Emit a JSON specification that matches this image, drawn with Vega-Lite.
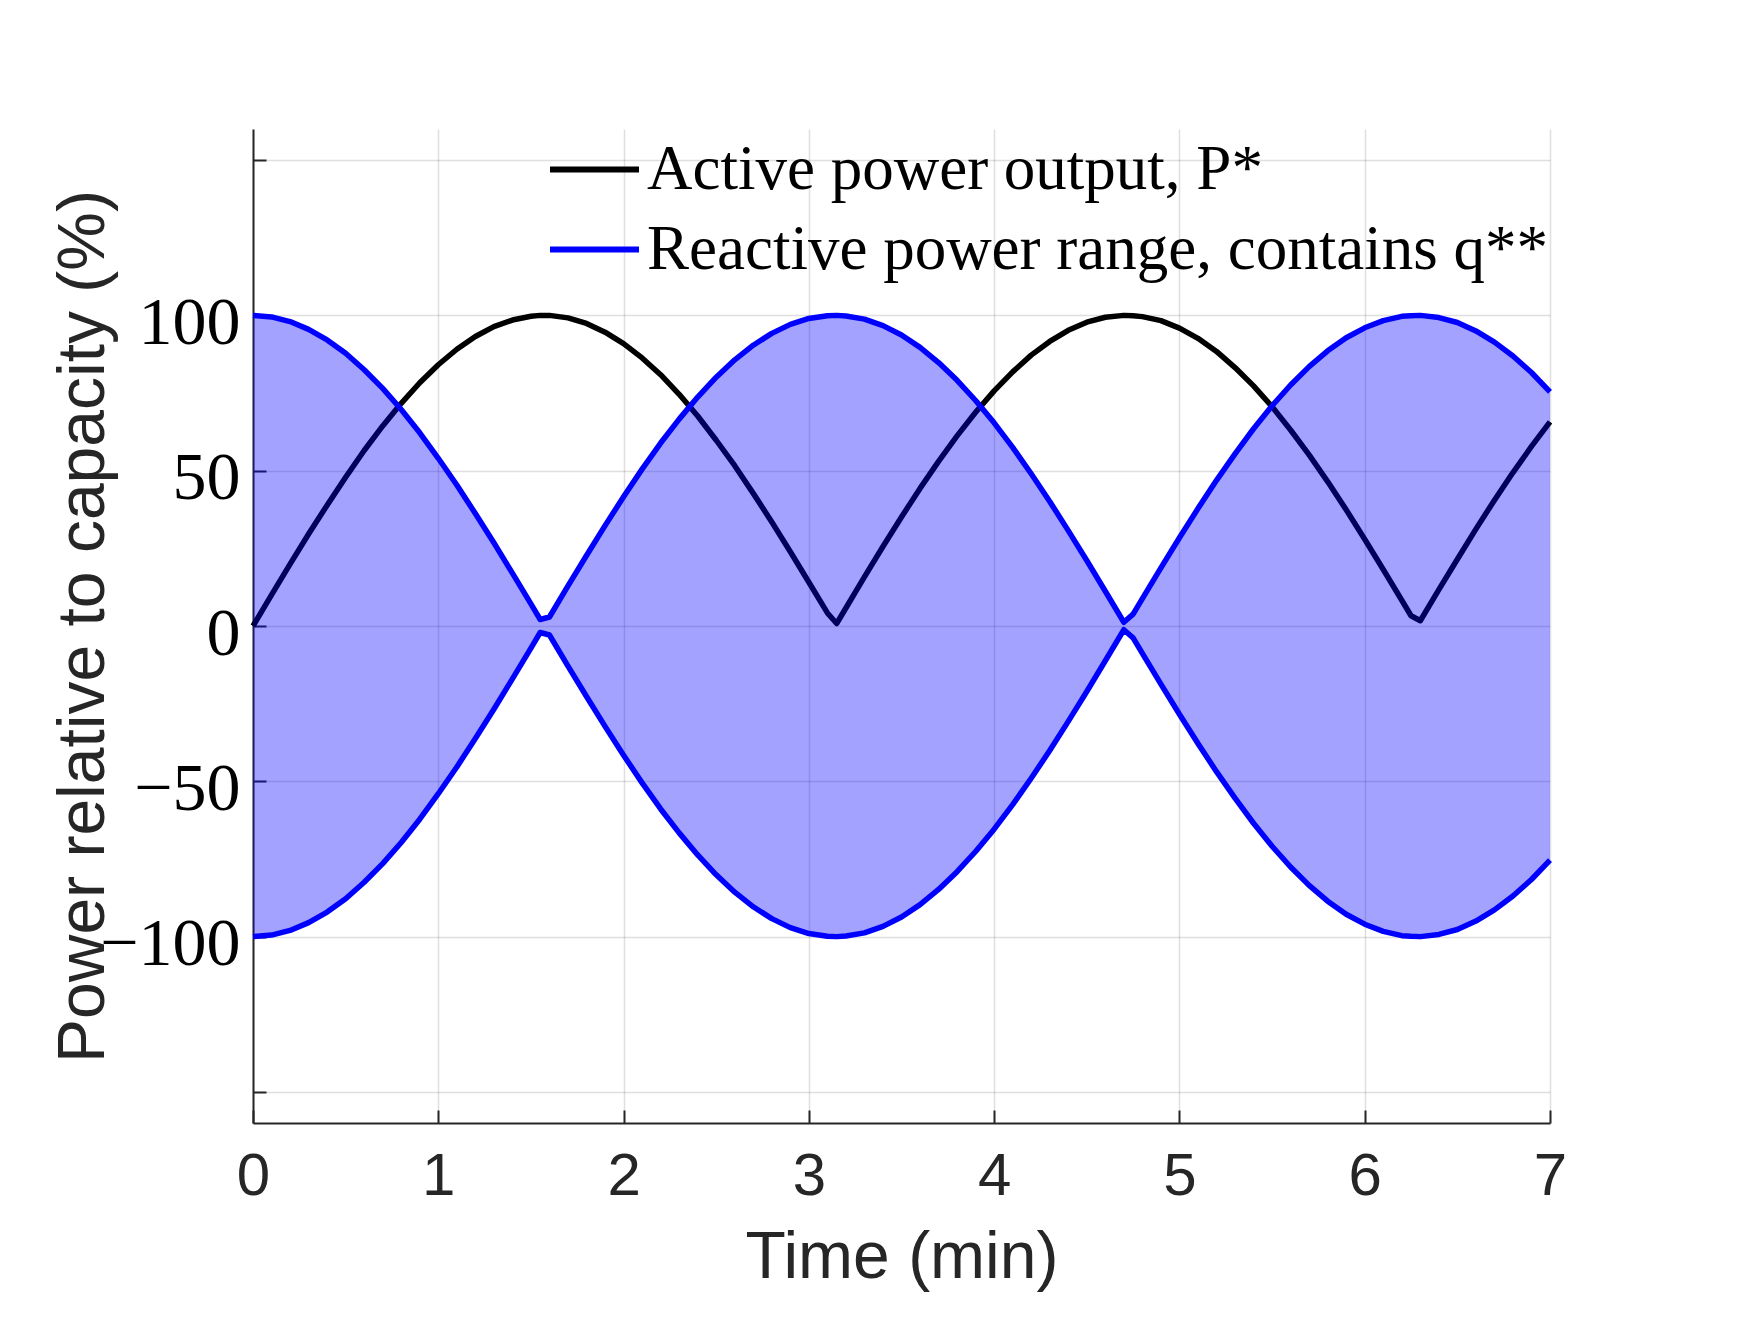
{
  "$schema": "https://vega.github.io/schema/vega-lite/v6.json",
  "width": 1297,
  "height": 994,
  "autosize": {"type": "none"},
  "padding": {"left": 253, "top": 129, "right": 194, "bottom": 202},
  "background": "white",
  "data": {
    "values": [
      {"t": 0.0, "p": 0.0, "hi": 100.0, "lo": -100.0},
      {"t": 0.1, "p": 10.0, "hi": 99.5, "lo": -99.5},
      {"t": 0.2, "p": 19.9, "hi": 98.0, "lo": -98.0},
      {"t": 0.3, "p": 29.6, "hi": 95.5, "lo": -95.5},
      {"t": 0.4, "p": 38.9, "hi": 92.1, "lo": -92.1},
      {"t": 0.5, "p": 47.9, "hi": 87.8, "lo": -87.8},
      {"t": 0.6, "p": 56.5, "hi": 82.5, "lo": -82.5},
      {"t": 0.7, "p": 64.4, "hi": 76.5, "lo": -76.5},
      {"t": 0.8, "p": 71.7, "hi": 69.7, "lo": -69.7},
      {"t": 0.9, "p": 78.3, "hi": 62.2, "lo": -62.2},
      {"t": 1.0, "p": 84.1, "hi": 54.0, "lo": -54.0},
      {"t": 1.1, "p": 89.1, "hi": 45.4, "lo": -45.4},
      {"t": 1.2, "p": 93.2, "hi": 36.2, "lo": -36.2},
      {"t": 1.3, "p": 96.4, "hi": 26.8, "lo": -26.8},
      {"t": 1.4, "p": 98.5, "hi": 17.0, "lo": -17.0},
      {"t": 1.5, "p": 99.7, "hi": 7.1, "lo": -7.1},
      {"t": 1.55, "p": 100.0, "hi": 2.1, "lo": -2.1},
      {"t": 1.6, "p": 100.0, "hi": 2.9, "lo": -2.9},
      {"t": 1.7, "p": 99.2, "hi": 12.9, "lo": -12.9},
      {"t": 1.8, "p": 97.4, "hi": 22.7, "lo": -22.7},
      {"t": 1.9, "p": 94.6, "hi": 32.3, "lo": -32.3},
      {"t": 2.0, "p": 90.9, "hi": 41.6, "lo": -41.6},
      {"t": 2.1, "p": 86.3, "hi": 50.5, "lo": -50.5},
      {"t": 2.2, "p": 80.9, "hi": 58.9, "lo": -58.9},
      {"t": 2.3, "p": 74.6, "hi": 66.6, "lo": -66.6},
      {"t": 2.4, "p": 67.6, "hi": 73.7, "lo": -73.7},
      {"t": 2.5, "p": 59.8, "hi": 80.1, "lo": -80.1},
      {"t": 2.6, "p": 51.6, "hi": 85.7, "lo": -85.7},
      {"t": 2.7, "p": 42.7, "hi": 90.4, "lo": -90.4},
      {"t": 2.8, "p": 33.5, "hi": 94.2, "lo": -94.2},
      {"t": 2.9, "p": 23.9, "hi": 97.1, "lo": -97.1},
      {"t": 3.0, "p": 14.1, "hi": 99.0, "lo": -99.0},
      {"t": 3.1, "p": 4.2, "hi": 99.9, "lo": -99.9},
      {"t": 3.15, "p": 0.8, "hi": 100.0, "lo": -100.0},
      {"t": 3.2, "p": 5.8, "hi": 99.8, "lo": -99.8},
      {"t": 3.3, "p": 15.8, "hi": 98.8, "lo": -98.8},
      {"t": 3.4, "p": 25.6, "hi": 96.7, "lo": -96.7},
      {"t": 3.5, "p": 35.1, "hi": 93.7, "lo": -93.7},
      {"t": 3.6, "p": 44.3, "hi": 89.7, "lo": -89.7},
      {"t": 3.7, "p": 53.0, "hi": 84.8, "lo": -84.8},
      {"t": 3.8, "p": 61.2, "hi": 79.1, "lo": -79.1},
      {"t": 3.9, "p": 68.8, "hi": 72.6, "lo": -72.6},
      {"t": 4.0, "p": 75.7, "hi": 65.4, "lo": -65.4},
      {"t": 4.1, "p": 81.8, "hi": 57.5, "lo": -57.5},
      {"t": 4.2, "p": 87.2, "hi": 49.0, "lo": -49.0},
      {"t": 4.3, "p": 91.6, "hi": 40.1, "lo": -40.1},
      {"t": 4.4, "p": 95.2, "hi": 30.7, "lo": -30.7},
      {"t": 4.5, "p": 97.8, "hi": 21.1, "lo": -21.1},
      {"t": 4.6, "p": 99.4, "hi": 11.2, "lo": -11.2},
      {"t": 4.7, "p": 100.0, "hi": 1.2, "lo": -1.2},
      {"t": 4.75, "p": 99.9, "hi": 3.8, "lo": -3.8},
      {"t": 4.8, "p": 99.6, "hi": 8.8, "lo": -8.8},
      {"t": 4.9, "p": 98.3, "hi": 18.7, "lo": -18.7},
      {"t": 5.0, "p": 95.9, "hi": 28.4, "lo": -28.4},
      {"t": 5.1, "p": 92.6, "hi": 37.8, "lo": -37.8},
      {"t": 5.2, "p": 88.4, "hi": 46.9, "lo": -46.9},
      {"t": 5.3, "p": 83.2, "hi": 55.4, "lo": -55.4},
      {"t": 5.4, "p": 77.3, "hi": 63.5, "lo": -63.5},
      {"t": 5.5, "p": 70.6, "hi": 70.9, "lo": -70.9},
      {"t": 5.6, "p": 63.1, "hi": 77.6, "lo": -77.6},
      {"t": 5.7, "p": 55.1, "hi": 83.5, "lo": -83.5},
      {"t": 5.8, "p": 46.5, "hi": 88.6, "lo": -88.6},
      {"t": 5.9, "p": 37.4, "hi": 92.8, "lo": -92.8},
      {"t": 6.0, "p": 27.9, "hi": 96.0, "lo": -96.0},
      {"t": 6.1, "p": 18.2, "hi": 98.3, "lo": -98.3},
      {"t": 6.2, "p": 8.3, "hi": 99.7, "lo": -99.7},
      {"t": 6.25, "p": 3.3, "hi": 99.9, "lo": -99.9},
      {"t": 6.3, "p": 1.7, "hi": 100.0, "lo": -100.0},
      {"t": 6.4, "p": 11.7, "hi": 99.3, "lo": -99.3},
      {"t": 6.5, "p": 21.5, "hi": 97.7, "lo": -97.7},
      {"t": 6.6, "p": 31.2, "hi": 95.0, "lo": -95.0},
      {"t": 6.7, "p": 40.5, "hi": 91.4, "lo": -91.4},
      {"t": 6.8, "p": 49.4, "hi": 86.9, "lo": -86.9},
      {"t": 6.9, "p": 57.8, "hi": 81.6, "lo": -81.6},
      {"t": 7.0, "p": 65.7, "hi": 75.4, "lo": -75.4}
    ]
  },
  "layer": [
    {
      "mark": {"type": "line", "strokeWidth": 5.5, "strokeJoin": "round"},
      "encoding": {
        "x": {
          "field": "t", "type": "quantitative", "title": "Time (min)",
          "scale": {"domain": [0, 7], "nice": false, "zero": false},
          "axis": {
            "values": [0, 1, 2, 3, 4, 5, 6, 7],
            "format": "d",
            "labelFlush": false,
            "labelFont": "Liberation Sans", "labelFontSize": 60, "labelColor": "#262626",
            "labelPadding": 37,
            "titleFont": "Liberation Sans", "titleFontSize": 66, "titleFontWeight": "normal", "titleColor": "#262626",
            "titleY": 154, "titleBaseline": "alphabetic"
          }
        },
        "y": {
          "field": "p", "type": "quantitative", "title": "Power relative to capacity (%)",
          "scale": {"domain": [-160, 160], "nice": false, "zero": false},
          "axis": {
            "values": [-150, -100, -50, 0, 50, 100, 150],
            "labelExpr": "abs(datum.value) == 150 ? '' : datum.label",
            "labelFlush": false,
            "labelFont": "Liberation Serif", "labelFontSize": 68, "labelColor": "#000000",
            "labelPadding": 26,
            "labelOffset": 8,
            "titleFont": "Liberation Sans", "titleFontSize": 66, "titleFontWeight": "normal", "titleColor": "#262626",
            "titleAngle": 270, "titleX": -150, "titleY": 497, "titleBaseline": "alphabetic", "titleAlign": "center"
          }
        },
        "color": {
          "datum": "Active power output, P*",
          "type": "nominal",
          "scale": {
            "domain": ["Active power output, P*", "Reactive power range, contains q**"],
            "range": ["#000000", "#0000ff"]
          },
          "legend": {
            "title": null,
            "orient": "none",
            "legendX": 294,
            "legendY": -7,
            "padding": 0,
            "symbolType": "stroke",
            "symbolSize": 7921,
            "symbolStrokeWidth": 6,
            "labelFont": "Liberation Serif",
            "labelFontSize": 63,
            "labelColor": "#000000",
            "labelOffset": 5,
            "labelLimit": 2000,
            "rowPadding": -13
          }
        }
      }
    },
    {
      "mark": {"type": "area", "color": "#0000ff", "fillOpacity": 0.36, "strokeWidth": 0},
      "encoding": {
        "x": {"field": "t", "type": "quantitative", "title": "Time (min)", "scale": {"domain": [0, 7], "nice": false, "zero": false}},
        "y": {"field": "lo", "type": "quantitative", "title": "Power relative to capacity (%)", "scale": {"domain": [-160, 160], "nice": false, "zero": false}},
        "y2": {"field": "hi"}
      }
    },
    {
      "mark": {"type": "line", "strokeWidth": 5.5, "strokeJoin": "round"},
      "encoding": {
        "x": {"field": "t", "type": "quantitative", "title": "Time (min)", "scale": {"domain": [0, 7], "nice": false, "zero": false}},
        "y": {"field": "hi", "type": "quantitative", "title": "Power relative to capacity (%)", "scale": {"domain": [-160, 160], "nice": false, "zero": false}},
        "color": {"datum": "Reactive power range, contains q**", "type": "nominal"}
      }
    },
    {
      "mark": {"type": "line", "strokeWidth": 5.5, "strokeJoin": "round"},
      "encoding": {
        "x": {"field": "t", "type": "quantitative", "title": "Time (min)", "scale": {"domain": [0, 7], "nice": false, "zero": false}},
        "y": {"field": "lo", "type": "quantitative", "title": "Power relative to capacity (%)", "scale": {"domain": [-160, 160], "nice": false, "zero": false}},
        "color": {"datum": "Reactive power range, contains q**", "type": "nominal"}
      }
    }
  ],
  "config": {
    "view": {"stroke": null},
    "axis": {
      "grid": true,
      "gridColor": "#262626",
      "gridOpacity": 0.15,
      "gridWidth": 1.5,
      "domainColor": "#262626",
      "domainWidth": 2,
      "tickColor": "#262626",
      "tickWidth": 2,
      "tickSize": -13
    }
  }
}
